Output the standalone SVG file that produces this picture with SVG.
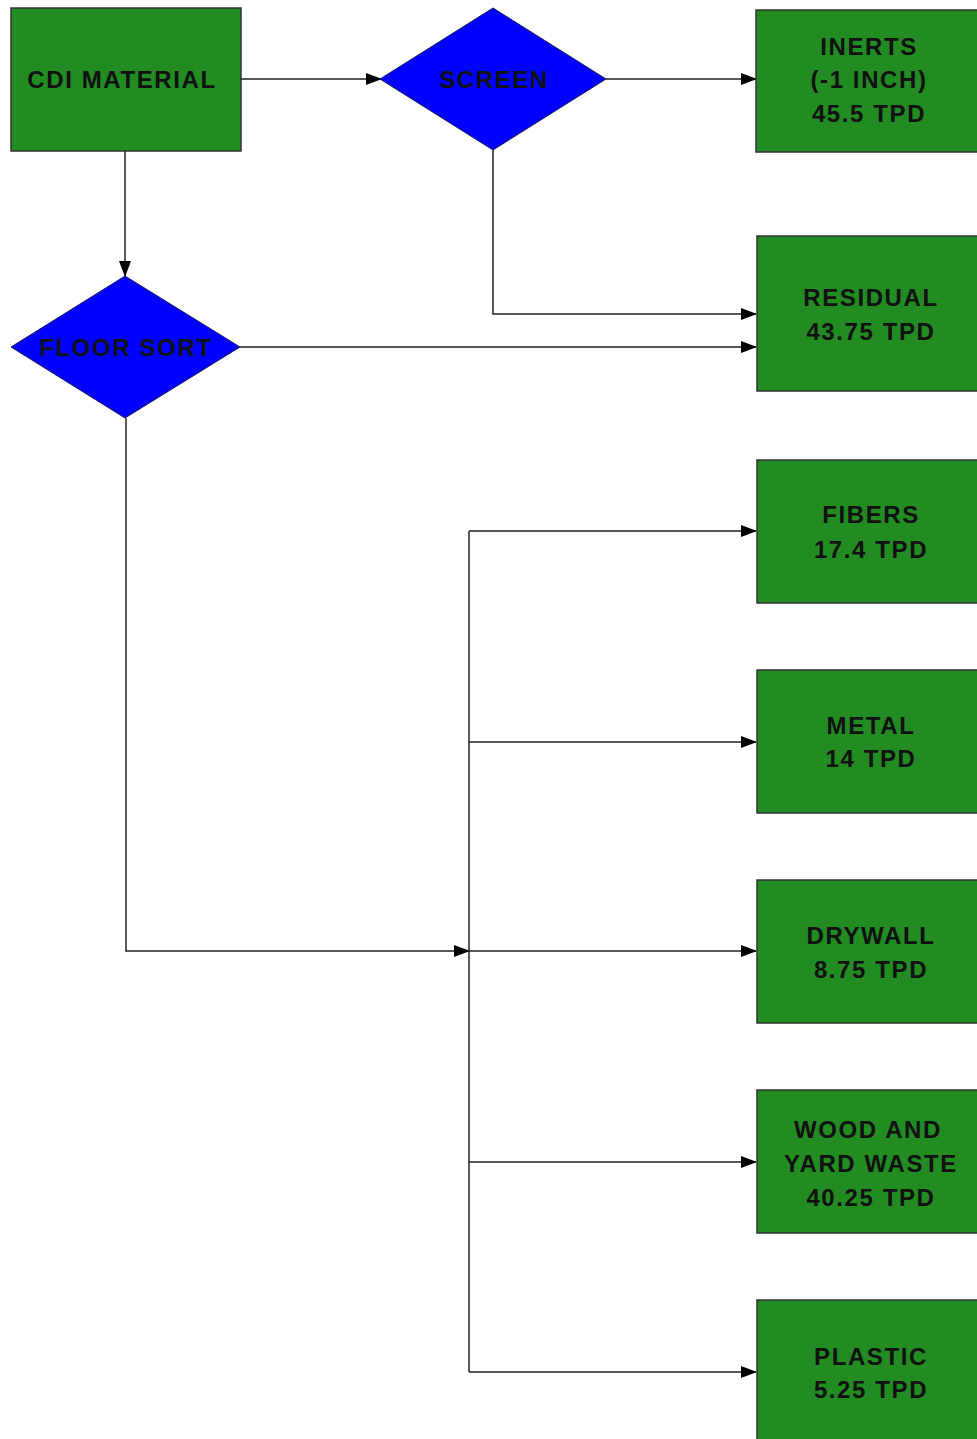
<svg xmlns="http://www.w3.org/2000/svg" width="977" height="1439" viewBox="0 0 977 1439">
<style>
.box{fill:#228B22;stroke:#333;stroke-width:1.5}
.dia{fill:#0000FF;stroke:#1a1a5a;stroke-width:1}
.t{font-family:"Liberation Sans",Arial,sans-serif;font-weight:bold;font-size:24px;letter-spacing:1.6px;fill:#111;text-anchor:middle}
.c{fill:none;stroke:#222;stroke-width:1.5}
</style>
<defs>
<marker id="ah" markerUnits="userSpaceOnUse" markerWidth="16" markerHeight="12" refX="15" refY="6" orient="auto">
<path d="M0,0 L16,6 L0,12 z" fill="#000"/>
</marker>
</defs>
<rect width="977" height="1439" fill="#fff"/>
<g id="connectors">
<line class="c" x1="241" y1="79" x2="381" y2="79" marker-end="url(#ah)"/>
<line class="c" x1="606" y1="79" x2="756" y2="79" marker-end="url(#ah)"/>
<line class="c" x1="125" y1="151" x2="125" y2="276" marker-end="url(#ah)"/>
<polyline class="c" points="493,150 493,314 756,314" marker-end="url(#ah)"/>
<line class="c" x1="240" y1="347" x2="756" y2="347" marker-end="url(#ah)"/>
<polyline class="c" points="126,418 126,951 469,951" marker-end="url(#ah)"/>
<line class="c" x1="469" y1="531" x2="469" y2="1372"/>
<line class="c" x1="469" y1="531" x2="756" y2="531" marker-end="url(#ah)"/>
<line class="c" x1="469" y1="742" x2="756" y2="742" marker-end="url(#ah)"/>
<line class="c" x1="469" y1="951" x2="756" y2="951" marker-end="url(#ah)"/>
<line class="c" x1="469" y1="1162" x2="756" y2="1162" marker-end="url(#ah)"/>
<line class="c" x1="469" y1="1372" x2="756" y2="1372" marker-end="url(#ah)"/>
</g>
<g id="cdi">
<rect class="box" x="11" y="8" width="230" height="143"/>
<text class="t" x="122" y="88">CDI MATERIAL</text>
</g>
<g id="screen">
<polygon class="dia" points="493,8 606,79 493,150 380,79"/>
<text class="t" x="494" y="88">SCREEN</text>
</g>
<g id="floor-sort">
<polygon class="dia" points="125,276 240,347 125,418 11,347"/>
<text class="t" x="126" y="356">FLOOR SORT</text>
</g>
<g id="inerts">
<rect class="box" x="756" y="10" width="230" height="142"/>
<text class="t" x="869" y="55">INERTS</text>
<text class="t" x="869" y="88">(-1 INCH)</text>
<text class="t" x="869" y="122">45.5 TPD</text>
</g>
<g id="residual">
<rect class="box" x="757" y="236" width="230" height="155"/>
<text class="t" x="871" y="306">RESIDUAL</text>
<text class="t" x="871" y="340">43.75 TPD</text>
</g>
<g id="fibers">
<rect class="box" x="757" y="460" width="230" height="143"/>
<text class="t" x="871" y="523">FIBERS</text>
<text class="t" x="871" y="558">17.4 TPD</text>
</g>
<g id="metal">
<rect class="box" x="757" y="670" width="230" height="143"/>
<text class="t" x="871" y="734">METAL</text>
<text class="t" x="871" y="767">14 TPD</text>
</g>
<g id="drywall">
<rect class="box" x="757" y="880" width="230" height="143"/>
<text class="t" x="871" y="944">DRYWALL</text>
<text class="t" x="871" y="978">8.75 TPD</text>
</g>
<g id="wood">
<rect class="box" x="757" y="1090" width="230" height="143"/>
<text class="t" x="868" y="1138">WOOD AND</text>
<text class="t" x="871" y="1172">YARD WASTE</text>
<text class="t" x="871" y="1206">40.25 TPD</text>
</g>
<g id="plastic">
<rect class="box" x="757" y="1300" width="230" height="150"/>
<text class="t" x="871" y="1365">PLASTIC</text>
<text class="t" x="871" y="1398">5.25 TPD</text>
</g>
</svg>
